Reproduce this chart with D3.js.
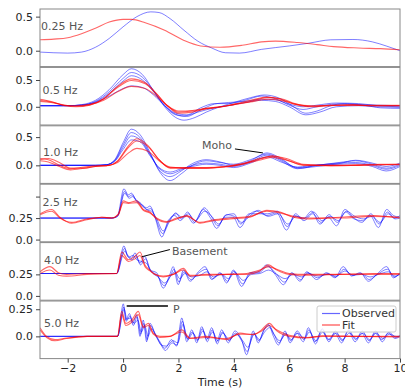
<!DOCTYPE html>
<html>
<head>
<meta charset="utf-8">
<script src="https://cdn.jsdelivr.net/npm/d3@7"></script>
<style>
  body { margin: 0; background: #fff; }
  text { font-family: "DejaVu Sans", sans-serif; }
</style>
</head>
<body>
<svg id="chart" width="405" height="388"></svg>
<script>
// ---- data: [time (s), amplitude] ----
const bandLabels = ["0.25 Hz", "0.5 Hz", "1.0 Hz", "2.5 Hz", "4.0 Hz", "5.0 Hz"];
const timeTicks = [-2, 0, 2, 4, 6, 8, 10];
const ampTicks = [[0, 0.5], [0, 0.5], [0, 0.5], [0, 0.25, 0.5], [0, 0.25], [0, 0.25]];

const obs025 = [[-3,-0.02],[-2.5,-0.03],[-2,-0.035],[-1.5,-0.02],[-1,0.05],[-0.5,0.18],[0,0.35],[0.5,0.5],[1,0.57],[1.3,0.56],[1.7,0.47],[2.2,0.3],[2.7,0.14],[3.2,0.04],[3.7,-0.03],[4.2,-0.035],[5,0.02],[6,0.07],[6.7,0.11],[7.5,0.16],[8.3,0.165],[9,0.13],[9.5,0.07],[10,0.0]];
const fit025 = [[-3,0.16],[-2.5,0.17],[-2,0.19],[-1.5,0.25],[-1,0.33],[-0.5,0.42],[0,0.46],[0.3,0.46],[0.8,0.41],[1.5,0.3],[2.2,0.15],[2.8,0.07],[3.5,0.05],[4.3,0.08],[5,0.13],[5.5,0.14],[6.3,0.12],[7,0.09],[7.6,0.06],[8.5,0.04],[9.3,0.03],[10,0.015]];

const obs05a = [[-3,0.02],[-2,0.02],[-1.5,0.04],[-1,0.12],[-0.5,0.32],[0,0.6],[0.3,0.71],[0.7,0.6],[1.1,0.3],[1.5,0.0],[1.9,-0.2],[2.2,-0.25],[2.6,-0.2],[3,-0.1],[3.5,0.0],[4,0.08],[4.6,0.17],[5.1,0.22],[5.6,0.17],[6.1,0.02],[6.6,-0.12],[7,-0.08],[7.5,0.02],[8,0.06],[8.7,0.03],[9.3,-0.02],[10,-0.03]];
const obs05b = [[-3,0.02],[-2,0.02],[-1.5,0.03],[-1,0.1],[-0.5,0.28],[0,0.53],[0.3,0.64],[0.7,0.55],[1.1,0.3],[1.5,0.02],[1.9,-0.15],[2.3,-0.18],[2.8,-0.06],[3.3,0.05],[3.8,0.08],[4.4,0.1],[5,0.14],[5.5,0.13],[6,0.05],[6.5,0.0],[7,0.03],[7.7,0.07],[8.5,0.06],[9.2,0.02],[10,0.0]];
const obs05c = [[-3,0.02],[-2,0.02],[-1.5,0.03],[-1,0.09],[-0.5,0.25],[0,0.48],[0.3,0.58],[0.7,0.5],[1.1,0.28],[1.5,0.03],[1.9,-0.12],[2.3,-0.15],[2.8,-0.02],[3.3,0.06],[3.8,0.06],[4.4,0.12],[5,0.2],[5.5,0.15],[6,0.03],[6.5,-0.05],[7,0.0],[7.7,0.05],[8.5,0.04],[9.2,0.03],[10,0.02]];
const obs05d = [[-3,0.02],[-2,0.02],[-1.5,0.03],[-1,0.08],[-0.5,0.2],[0,0.34],[0.3,0.39],[0.7,0.36],[1.1,0.22],[1.5,0.02],[1.9,-0.14],[2.2,-0.17],[2.7,-0.1],[3.3,-0.02],[3.8,0.02],[4.4,0.08],[5,0.12],[5.5,0.1],[6,0.0],[6.6,-0.15],[7.1,-0.1],[7.7,0.0],[8.5,0.02],[9.2,0.0],[10,-0.01]];
const fit05a = [[-3,0.14],[-2.6,0.1],[-2.1,0.02],[-1.7,0.0],[-1.2,0.03],[-0.7,0.15],[-0.2,0.38],[0.3,0.52],[0.8,0.45],[1.2,0.25],[1.6,0.02],[2,-0.1],[2.5,-0.08],[3,-0.03],[3.5,0.0],[4,0.05],[4.6,0.12],[5.2,0.18],[5.7,0.14],[6.2,0.05],[6.8,0.0],[7.5,0.02],[8.3,0.04],[9,0.02],[10,0.02]];
const fit05b = [[-3,0.12],[-2.6,0.09],[-2.1,0.03],[-1.7,0.01],[-1.2,0.04],[-0.7,0.15],[-0.2,0.36],[0.3,0.49],[0.8,0.43],[1.2,0.24],[1.6,0.02],[2,-0.12],[2.5,-0.1],[3,-0.04],[3.5,-0.01],[4,0.04],[4.6,0.1],[5.2,0.17],[5.7,0.15],[6.2,0.06],[6.8,0.01],[7.5,0.03],[8.3,0.03],[9,0.03],[10,0.03]];
const fit05c = [[-3,0.1],[-2.6,0.08],[-2.1,0.03],[-1.7,0.02],[-1.2,0.04],[-0.7,0.12],[-0.2,0.28],[0.3,0.38],[0.8,0.34],[1.2,0.2],[1.6,0.02],[2,-0.08],[2.5,-0.07],[3,-0.03],[3.5,0.0],[4,0.04],[4.6,0.09],[5.2,0.14],[5.7,0.12],[6.2,0.05],[6.8,0.02],[7.5,0.03],[8.3,0.03],[9,0.02],[10,0.02]];

const obs10a = [[-3,0],[-1,0],[-0.6,0.01],[-0.3,0.1],[0,0.4],[0.3,0.64],[0.6,0.55],[1,0.2],[1.3,-0.1],[1.7,-0.27],[2.1,-0.15],[2.5,0.0],[3,0.08],[3.5,0.05],[4,0.02],[4.6,0.1],[5.2,0.2],[5.7,0.1],[6.3,-0.04],[7,0.0],[7.8,0.05],[8.4,0.08],[9,0.02],[9.5,-0.05],[10,0.02]];
const obs10b = [[-3,0],[-1,0],[-0.6,0.01],[-0.3,0.09],[0,0.36],[0.3,0.58],[0.6,0.5],[1,0.18],[1.3,-0.08],[1.7,-0.2],[2.1,-0.1],[2.5,0.03],[3,0.1],[3.5,0.06],[4,0.0],[4.6,0.08],[5.2,0.22],[5.7,0.12],[6.3,-0.05],[7,-0.02],[7.8,0.03],[8.4,0.09],[9,0.04],[9.5,-0.02],[10,0.04]];
const obs10c = [[-3,0],[-1,0],[-0.6,0.01],[-0.3,0.08],[0,0.32],[0.3,0.52],[0.6,0.46],[1,0.17],[1.3,-0.05],[1.7,-0.15],[2.1,-0.08],[2.5,0.0],[3,0.04],[3.5,0.02],[4,-0.02],[4.6,0.06],[5.2,0.18],[5.7,0.08],[6.3,-0.06],[7,0.0],[7.8,0.04],[8.4,0.05],[9,0.0],[9.5,-0.07],[10,0.0]];
const obs10d = [[-3,0],[-1,0],[-0.6,0.01],[-0.3,0.07],[0,0.28],[0.3,0.45],[0.6,0.42],[1,0.15],[1.3,-0.04],[1.7,-0.12],[2.1,-0.06],[2.5,-0.02],[3,0.02],[3.5,0.0],[4,-0.04],[4.6,0.04],[5.2,0.15],[5.7,0.06],[6.3,-0.03],[7,0.01],[7.8,0.02],[8.4,0.03],[9,-0.02],[9.5,-0.1],[10,-0.02]];
const fit10a = [[-3,0.12],[-2.7,0.1],[-2.3,0.0],[-1.9,-0.06],[-1.4,-0.03],[-1,-0.01],[-0.5,0.0],[-0.2,0.08],[0.2,0.35],[0.5,0.47],[0.9,0.35],[1.3,0.1],[1.7,-0.05],[2.3,-0.05],[3,-0.05],[3.7,-0.03],[4.3,0.02],[5,0.12],[5.4,0.17],[5.9,0.1],[6.5,0.0],[7.5,0.0],[8.5,0.01],[9.3,0.02],[10,0.02]];
const fit10b = [[-3,0.1],[-2.7,0.12],[-2.3,0.05],[-1.9,-0.05],[-1.4,-0.05],[-1,-0.02],[-0.5,0.0],[-0.2,0.07],[0.2,0.32],[0.5,0.43],[0.9,0.33],[1.3,0.1],[1.7,-0.04],[2.3,-0.04],[3,-0.04],[3.7,-0.02],[4.3,0.03],[5,0.13],[5.4,0.16],[5.9,0.12],[6.5,0.02],[7.5,0.0],[8.5,0.0],[9.3,0.01],[10,0.01]];
const fit10c = [[-3,0.08],[-2.7,0.06],[-2.3,-0.02],[-1.9,-0.08],[-1.4,-0.05],[-1,-0.02],[-0.5,0.0],[-0.2,0.05],[0.2,0.22],[0.5,0.3],[0.9,0.25],[1.3,0.08],[1.7,-0.03],[2.3,-0.05],[3,-0.05],[3.7,-0.02],[4.3,0.02],[5,0.1],[5.4,0.14],[5.9,0.09],[6.5,0.01],[7.5,-0.01],[8.5,0.0],[9.3,0.01],[10,0.02]];

const obs25a = [[-3,0.25],[-0.41,0.25],[-0.2,0.28],[0.03,0.59],[0.19,0.52],[0.3,0.54],[0.45,0.47],[0.61,0.43],[0.85,0.37],[0.97,0.39],[1.15,0.26],[1.4,0.03],[1.63,0.22],[1.87,0.28],[2.06,0.22],[2.3,0.28],[2.54,0.19],[2.9,0.35],[3.14,0.26],[3.38,0.13],[3.68,0.26],[3.98,0.26],[4.22,0.14],[4.52,0.28],[4.82,0.33],[5.19,0.28],[5.55,0.31],[5.9,0.11],[6.2,0.28],[6.5,0.24],[6.81,0.33],[7.11,0.18],[7.41,0.26],[7.71,0.16],[8.01,0.35],[8.31,0.26],[8.62,0.2],[8.92,0.28],[9.22,0.14],[9.52,0.35],[9.76,0.28],[10,0.26]];
const obs25b = [[-3,0.25],[-0.41,0.25],[-0.2,0.27],[0.05,0.56],[0.2,0.5],[0.33,0.52],[0.48,0.45],[0.63,0.42],[0.87,0.35],[1.0,0.36],[1.18,0.24],[1.43,0.07],[1.66,0.2],[1.9,0.31],[2.1,0.24],[2.33,0.32],[2.58,0.2],[2.93,0.37],[3.17,0.28],[3.42,0.16],[3.7,0.28],[4.0,0.3],[4.25,0.18],[4.55,0.3],[4.85,0.3],[5.22,0.3],[5.58,0.33],[5.93,0.15],[6.23,0.3],[6.53,0.22],[6.85,0.3],[7.15,0.2],[7.44,0.29],[7.74,0.2],[8.04,0.32],[8.34,0.24],[8.65,0.22],[8.95,0.3],[9.25,0.18],[9.55,0.32],[9.8,0.25],[10,0.28]];
const obs25c = [[-3,0.25],[-0.41,0.25],[-0.2,0.27],[0.06,0.54],[0.22,0.48],[0.35,0.5],[0.5,0.44],[0.66,0.4],[0.9,0.34],[1.03,0.33],[1.2,0.25],[1.45,0.1],[1.68,0.23],[1.92,0.3],[2.12,0.26],[2.36,0.3],[2.6,0.22],[2.95,0.33],[3.2,0.27],[3.45,0.18],[3.73,0.29],[4.02,0.27],[4.28,0.2],[4.57,0.27],[4.88,0.34],[5.24,0.27],[5.6,0.3],[5.95,0.18],[6.25,0.27],[6.56,0.25],[6.88,0.32],[7.18,0.22],[7.47,0.27],[7.77,0.22],[8.07,0.33],[8.37,0.27],[8.68,0.24],[8.98,0.27],[9.28,0.2],[9.58,0.3],[9.82,0.24],[10,0.25]];
const fit25a = [[-3,0.3],[-2.58,0.35],[-2.28,0.26],[-1.86,0.19],[-1.31,0.23],[-0.77,0.26],[-0.41,0.25],[-0.17,0.3],[0.01,0.45],[0.19,0.43],[0.49,0.45],[0.73,0.35],[0.97,0.32],[1.21,0.24],[1.57,0.2],[1.94,0.24],[2.3,0.28],[2.78,0.19],[3.26,0.22],[3.86,0.24],[4.58,0.26],[5.19,0.34],[5.67,0.32],[6.15,0.26],[6.63,0.24],[7.83,0.26],[9.04,0.28],[10,0.25]];
const fit25b = [[-3,0.29],[-2.58,0.33],[-2.28,0.25],[-1.86,0.2],[-1.31,0.24],[-0.77,0.26],[-0.41,0.25],[-0.17,0.29],[0.01,0.43],[0.19,0.42],[0.49,0.43],[0.73,0.34],[0.97,0.31],[1.21,0.25],[1.57,0.21],[1.94,0.25],[2.3,0.27],[2.78,0.2],[3.26,0.23],[3.86,0.25],[4.58,0.27],[5.19,0.33],[5.67,0.31],[6.15,0.27],[6.63,0.25],[7.83,0.25],[9.04,0.27],[10,0.26]];

const obs40a = [[-3,0.26],[-0.23,0.26],[0.03,0.58],[0.15,0.48],[0.31,0.44],[0.43,0.5],[0.61,0.38],[0.79,0.46],[0.97,0.3],[1.21,0.27],[1.45,0.09],[1.69,0.25],[1.81,0.34],[1.99,0.13],[2.18,0.3],[2.42,0.17],[2.72,0.28],[2.96,0.34],[3.2,0.19],[3.5,0.27],[3.74,0.15],[3.98,0.3],[4.28,0.11],[4.58,0.27],[4.88,0.28],[5.19,0.36],[5.49,0.25],[5.79,0.13],[6.09,0.27],[6.39,0.17],[6.63,0.28],[6.99,0.19],[7.35,0.27],[7.65,0.21],[7.95,0.34],[8.25,0.23],[8.56,0.27],[8.86,0.17],[9.16,0.25],[9.52,0.34],[9.76,0.21],[10,0.27]];
const obs40b = [[-3,0.26],[-0.23,0.26],[0.05,0.55],[0.17,0.46],[0.33,0.42],[0.46,0.47],[0.63,0.36],[0.81,0.43],[0.99,0.3],[1.23,0.24],[1.48,0.12],[1.71,0.23],[1.84,0.31],[2.02,0.16],[2.2,0.28],[2.45,0.19],[2.75,0.27],[3.0,0.31],[3.23,0.2],[3.53,0.26],[3.77,0.17],[4.01,0.29],[4.31,0.14],[4.61,0.26],[4.91,0.27],[5.22,0.34],[5.52,0.26],[5.82,0.16],[6.12,0.26],[6.42,0.19],[6.66,0.27],[7.02,0.21],[7.38,0.26],[7.68,0.22],[7.98,0.31],[8.28,0.24],[8.59,0.26],[8.89,0.19],[9.19,0.25],[9.55,0.31],[9.79,0.22],[10,0.26]];
const obs40c = [[-3,0.26],[-0.23,0.26],[0.06,0.52],[0.2,0.45],[0.36,0.47],[0.49,0.42],[0.66,0.4],[0.84,0.38],[1.02,0.28],[1.26,0.22],[1.5,0.15],[1.74,0.24],[1.87,0.28],[2.05,0.2],[2.23,0.26],[2.48,0.22],[2.78,0.24],[3.03,0.28],[3.26,0.22],[3.56,0.25],[3.8,0.2],[4.04,0.27],[4.34,0.18],[4.64,0.25],[4.94,0.26],[5.25,0.3],[5.55,0.25],[5.85,0.2],[6.15,0.25],[6.45,0.22],[6.69,0.26],[7.05,0.23],[7.41,0.25],[7.71,0.23],[8.01,0.29],[8.31,0.24],[8.62,0.25],[8.92,0.22],[9.22,0.25],[9.58,0.28],[9.82,0.23],[10,0.25]];
const fit40a = [[-3,0.28],[-2.64,0.34],[-2.34,0.27],[-2.04,0.25],[-1.3,0.26],[-0.23,0.26],[-0.05,0.51],[0.19,0.42],[0.43,0.46],[0.61,0.51],[0.79,0.36],[0.97,0.3],[1.15,0.25],[1.45,0.23],[1.81,0.25],[2.18,0.32],[2.42,0.23],[3.0,0.25],[3.74,0.25],[4.46,0.25],[4.94,0.29],[5.25,0.36],[5.55,0.3],[6.0,0.25],[6.63,0.24],[7.83,0.25],[9.04,0.26],[10,0.26]];
const fit40b = [[-3,0.26],[-2.64,0.3],[-2.34,0.24],[-2.04,0.23],[-1.3,0.25],[-0.23,0.26],[-0.05,0.47],[0.19,0.4],[0.43,0.43],[0.61,0.47],[0.79,0.34],[0.97,0.29],[1.15,0.25],[1.45,0.22],[1.81,0.25],[2.18,0.3],[2.42,0.24],[3.0,0.24],[3.74,0.25],[4.46,0.26],[4.94,0.3],[5.25,0.34],[5.55,0.31],[6.0,0.26],[6.63,0.25],[7.83,0.25],[9.04,0.25],[10,0.25]];

const obs50a = [[-3,0],[-0.2,0],[0.01,0.3],[0.1,0.15],[0.23,0.21],[0.35,0.12],[0.49,0.2],[0.61,0.0],[0.73,0.15],[0.85,-0.05],[0.97,0.12],[1.15,0.03],[1.33,-0.05],[1.51,-0.11],[1.75,-0.03],[1.93,-0.09],[2.12,0.17],[2.3,-0.05],[2.48,0.06],[2.66,-0.06],[2.84,0.09],[3.02,-0.03],[3.2,0.08],[3.38,-0.05],[3.56,0.06],[3.8,-0.06],[4.04,0.05],[4.28,-0.03],[4.46,-0.17],[4.7,0.05],[4.88,-0.06],[5.07,0.05],[5.25,0.11],[5.43,0.0],[5.61,-0.08],[5.85,0.05],[6.03,-0.06],[6.27,0.03],[6.51,-0.05],[6.69,0.08],[6.93,-0.05],[7.17,0.05],[7.41,-0.03],[7.65,0.03],[7.89,-0.06],[8.13,0.05],[8.38,-0.05],[8.62,0.03],[8.86,-0.06],[9.1,0.03],[9.34,-0.03],[9.58,0.03],[9.82,-0.02],[10,0.0]];
const obs50b = [[-3,0],[-0.2,0],[0.03,0.27],[0.12,0.14],[0.25,0.19],[0.37,0.1],[0.51,0.18],[0.63,0.02],[0.75,0.12],[0.87,-0.03],[0.99,0.1],[1.17,0.01],[1.35,-0.07],[1.53,-0.13],[1.77,-0.06],[1.95,-0.08],[2.14,0.14],[2.32,-0.02],[2.5,0.04],[2.68,-0.04],[2.86,0.07],[3.04,-0.05],[3.22,0.06],[3.4,-0.07],[3.58,0.04],[3.82,-0.04],[4.06,0.03],[4.3,-0.05],[4.48,-0.14],[4.72,0.03],[4.9,-0.04],[5.09,0.06],[5.27,0.1],[5.45,0.02],[5.63,-0.06],[5.87,0.03],[6.05,-0.04],[6.29,0.05],[6.53,-0.03],[6.71,0.06],[6.95,-0.07],[7.19,0.07],[7.43,-0.05],[7.67,0.05],[7.91,-0.04],[8.15,0.06],[8.4,-0.03],[8.64,0.05],[8.88,-0.04],[9.12,0.05],[9.36,-0.05],[9.6,0.04],[9.84,-0.01],[10,0.01]];
const obs50c = [[-3,0],[-0.2,0],[0.04,0.25],[0.14,0.16],[0.27,0.17],[0.4,0.12],[0.53,0.15],[0.66,0.04],[0.78,0.1],[0.9,0.0],[1.02,0.07],[1.2,0.0],[1.38,-0.08],[1.56,-0.09],[1.8,-0.04],[1.98,-0.06],[2.16,0.11],[2.34,-0.03],[2.52,0.03],[2.7,-0.03],[2.88,0.05],[3.06,-0.02],[3.24,0.04],[3.42,-0.04],[3.6,0.03],[3.84,-0.03],[4.08,0.02],[4.32,-0.04],[4.5,-0.1],[4.74,0.02],[4.92,-0.03],[5.11,0.04],[5.29,0.08],[5.47,0.01],[5.65,-0.04],[5.89,0.02],[6.07,-0.03],[6.31,0.03],[6.55,-0.02],[6.73,0.04],[6.97,-0.04],[7.21,0.04],[7.45,-0.03],[7.69,0.03],[7.93,-0.03],[8.17,0.03],[8.42,-0.02],[8.66,0.03],[8.9,-0.03],[9.14,0.03],[9.38,-0.02],[9.62,0.02],[9.86,0.0],[10,0.0]];
const fit50a = [[-3,0.08],[-2.76,0.0],[-2.46,-0.03],[-2.04,-0.015],[-1.3,0.0],[-0.2,0.0],[-0.05,0.23],[0.1,0.12],[0.31,0.15],[0.55,0.23],[0.73,0.09],[0.91,0.12],[1.09,0.03],[1.33,0.0],[1.69,0.0],[2.12,0.06],[2.42,-0.015],[3.0,0.0],[3.74,-0.03],[4.22,0.03],[4.7,0.015],[5.0,0.06],[5.28,0.12],[5.55,0.05],[6.0,0.0],[6.63,-0.015],[7.2,0.005],[8.4,0.0],[10,-0.006]];
const fit50b = [[-3,0.06],[-2.76,-0.01],[-2.46,-0.04],[-2.04,-0.02],[-1.3,0.0],[-0.2,0.0],[-0.05,0.2],[0.1,0.1],[0.31,0.13],[0.55,0.2],[0.73,0.08],[0.91,0.1],[1.09,0.02],[1.33,-0.01],[1.69,0.0],[2.12,0.04],[2.42,-0.02],[3.0,-0.01],[3.74,-0.02],[4.22,0.02],[4.7,0.02],[5.0,0.05],[5.28,0.1],[5.55,0.06],[6.0,0.01],[6.63,-0.01],[7.2,0.0],[8.4,0.0],[10,0.0]];

const observed = [[obs025], [obs05a, obs05b, obs05c, obs05d], [obs10a, obs10b, obs10c, obs10d],
                  [obs25a, obs25b, obs25c], [obs40a, obs40b, obs40c], [obs50a, obs50b, obs50c]];
const fitted = [[fit025], [fit05a, fit05b, fit05c], [fit10a, fit10b, fit10c],
                [fit25a, fit25b], [fit40a, fit40b], [fit50a, fit50b]];

// ---- layout ----
const svg = d3.select("#chart");
const left = 40, right = 400, top0 = 9, panelH = 58.4;
const yDomains = [[-0.233, 0.612], [-0.34, 0.735], [-0.32, 0.70], [-0.026, 0.644], [-0.05, 0.619], [-0.205, 0.326]];
const labelDy = [17, 23, 26, 17.5, 17.5, 21.7];
const labelDx = [41, 42.5, 43, 42.5, 44, 44];

const x = d3.scaleLinear().domain([-3, 10]).range([left, right]);
const ys = [];

const line = y => d3.line()
  .x(d => x(d[0]))
  .y(d => y(d[1]))
  .curve(d3.curveMonotoneX);

bandLabels.forEach((lab, i) => {
  const top = top0 + i * panelH, bot = top + panelH - 0.8;
  const y = d3.scaleLinear().domain(yDomains[i]).range([bot, top]);
  ys.push(y);

  svg.append("clipPath").attr("id", "clip" + i)
    .append("rect").attr("x", left).attr("y", top).attr("width", right - left).attr("height", bot - top);

  const g = svg.append("g").attr("clip-path", "url(#clip" + i + ")");
  observed[i].forEach(tr => {
    g.append("path").datum(tr)
      .attr("fill", "none").attr("stroke", "#0000ff").attr("stroke-opacity", 0.5)
      .attr("stroke-width", 1).attr("d", line(y));
  });
  fitted[i].forEach(tr => {
    g.append("path").datum(tr)
      .attr("fill", "none").attr("stroke", "#ff0000").attr("stroke-opacity", 0.6)
      .attr("stroke-width", 1.1).attr("d", line(y));
  });

  svg.append("rect").attr("x", left).attr("y", top).attr("width", right - left).attr("height", bot - top)
    .attr("fill", "none").attr("stroke", "#888").attr("stroke-width", 1);

  const ax = svg.append("g").attr("transform", "translate(" + left + ",0)")
    .call(d3.axisLeft(y).tickValues(ampTicks[i]).tickSize(4).tickPadding(3)
      .tickFormat(d => (i === 3 && d === 0.5) ? "" : (d === 0.25 ? "0.25" : d.toFixed(1))));
  ax.select(".domain").remove();
  ax.selectAll("line").attr("stroke", "#444");
  ax.selectAll("text").attr("font-size", 11).attr("fill", "#262626").attr("font-family", "DejaVu Sans");

  svg.append("text").attr("x", labelDx[i]).attr("y", top + labelDy[i]).attr("dy", "0.35em")
    .attr("font-size", 11).attr("fill", "#555").text(lab);
});

// bottom time axis
const lastBot = top0 + 6 * panelH - 0.8;
const xa = svg.append("g").attr("transform", "translate(0," + lastBot + ")")
  .call(d3.axisBottom(x).tickValues(timeTicks).tickSize(4).tickPadding(2));
xa.select(".domain").remove();
xa.selectAll("line").attr("stroke", "#444");
xa.selectAll("text").attr("font-size", 11).attr("fill", "#262626").attr("font-family", "DejaVu Sans");
svg.append("text").attr("x", (left + right) / 2).attr("y", 386).attr("text-anchor", "middle")
  .attr("font-size", 11).attr("fill", "#262626").text("Time (s)");

// annotations (in data coordinates)
const y3 = ys[2], y5 = ys[4], y6 = ys[5];
svg.append("line").attr("x1", x(4.04)).attr("y1", y3(0.29)).attr("x2", x(5.05)).attr("y2", y3(0.22))
  .attr("stroke", "#000").attr("stroke-width", 1);
svg.append("text").attr("x", x(3.93)).attr("y", y3(0.35)).attr("dy", "0.35em").attr("text-anchor", "end")
  .attr("font-size", 11).attr("fill", "#555").text("Moho");

svg.append("line").attr("x1", x(0.67)).attr("y1", y5(0.454)).attr("x2", x(1.69)).attr("y2", y5(0.538))
  .attr("stroke", "#000").attr("stroke-width", 1);
svg.append("text").attr("x", x(1.77)).attr("y", y5(0.52)).attr("dy", "0.35em")
  .attr("font-size", 11).attr("fill", "#555").text("Basement");

svg.append("line").attr("x1", x(0.13)).attr("y1", y6(0.28)).attr("x2", x(1.62)).attr("y2", y6(0.28))
  .attr("stroke", "#000").attr("stroke-width", 1.6);
svg.append("text").attr("x", x(1.8)).attr("y", y6(0.25)).attr("dy", "0.35em")
  .attr("font-size", 11).attr("fill", "#555").text("P");

// legend
const lg = svg.append("g").attr("transform", "translate(317,306)");
lg.append("rect").attr("width", 79).attr("height", 26).attr("rx", 2)
  .attr("fill", "#fff").attr("fill-opacity", 0.8).attr("stroke", "#ccc");
[["Observed", "#0000ff", 0.6, 7.5], ["Fit", "#ff0000", 0.7, 19]].forEach(([name, c, op, dy]) => {
  lg.append("line").attr("x1", 5).attr("x2", 23).attr("y1", dy).attr("y2", dy)
    .attr("stroke", c).attr("stroke-opacity", op).attr("stroke-width", 1.2);
  lg.append("text").attr("x", 25).attr("y", dy).attr("dy", "0.35em")
    .attr("font-size", 11).attr("fill", "#333").text(name);
});
</script>
</body>
</html>
